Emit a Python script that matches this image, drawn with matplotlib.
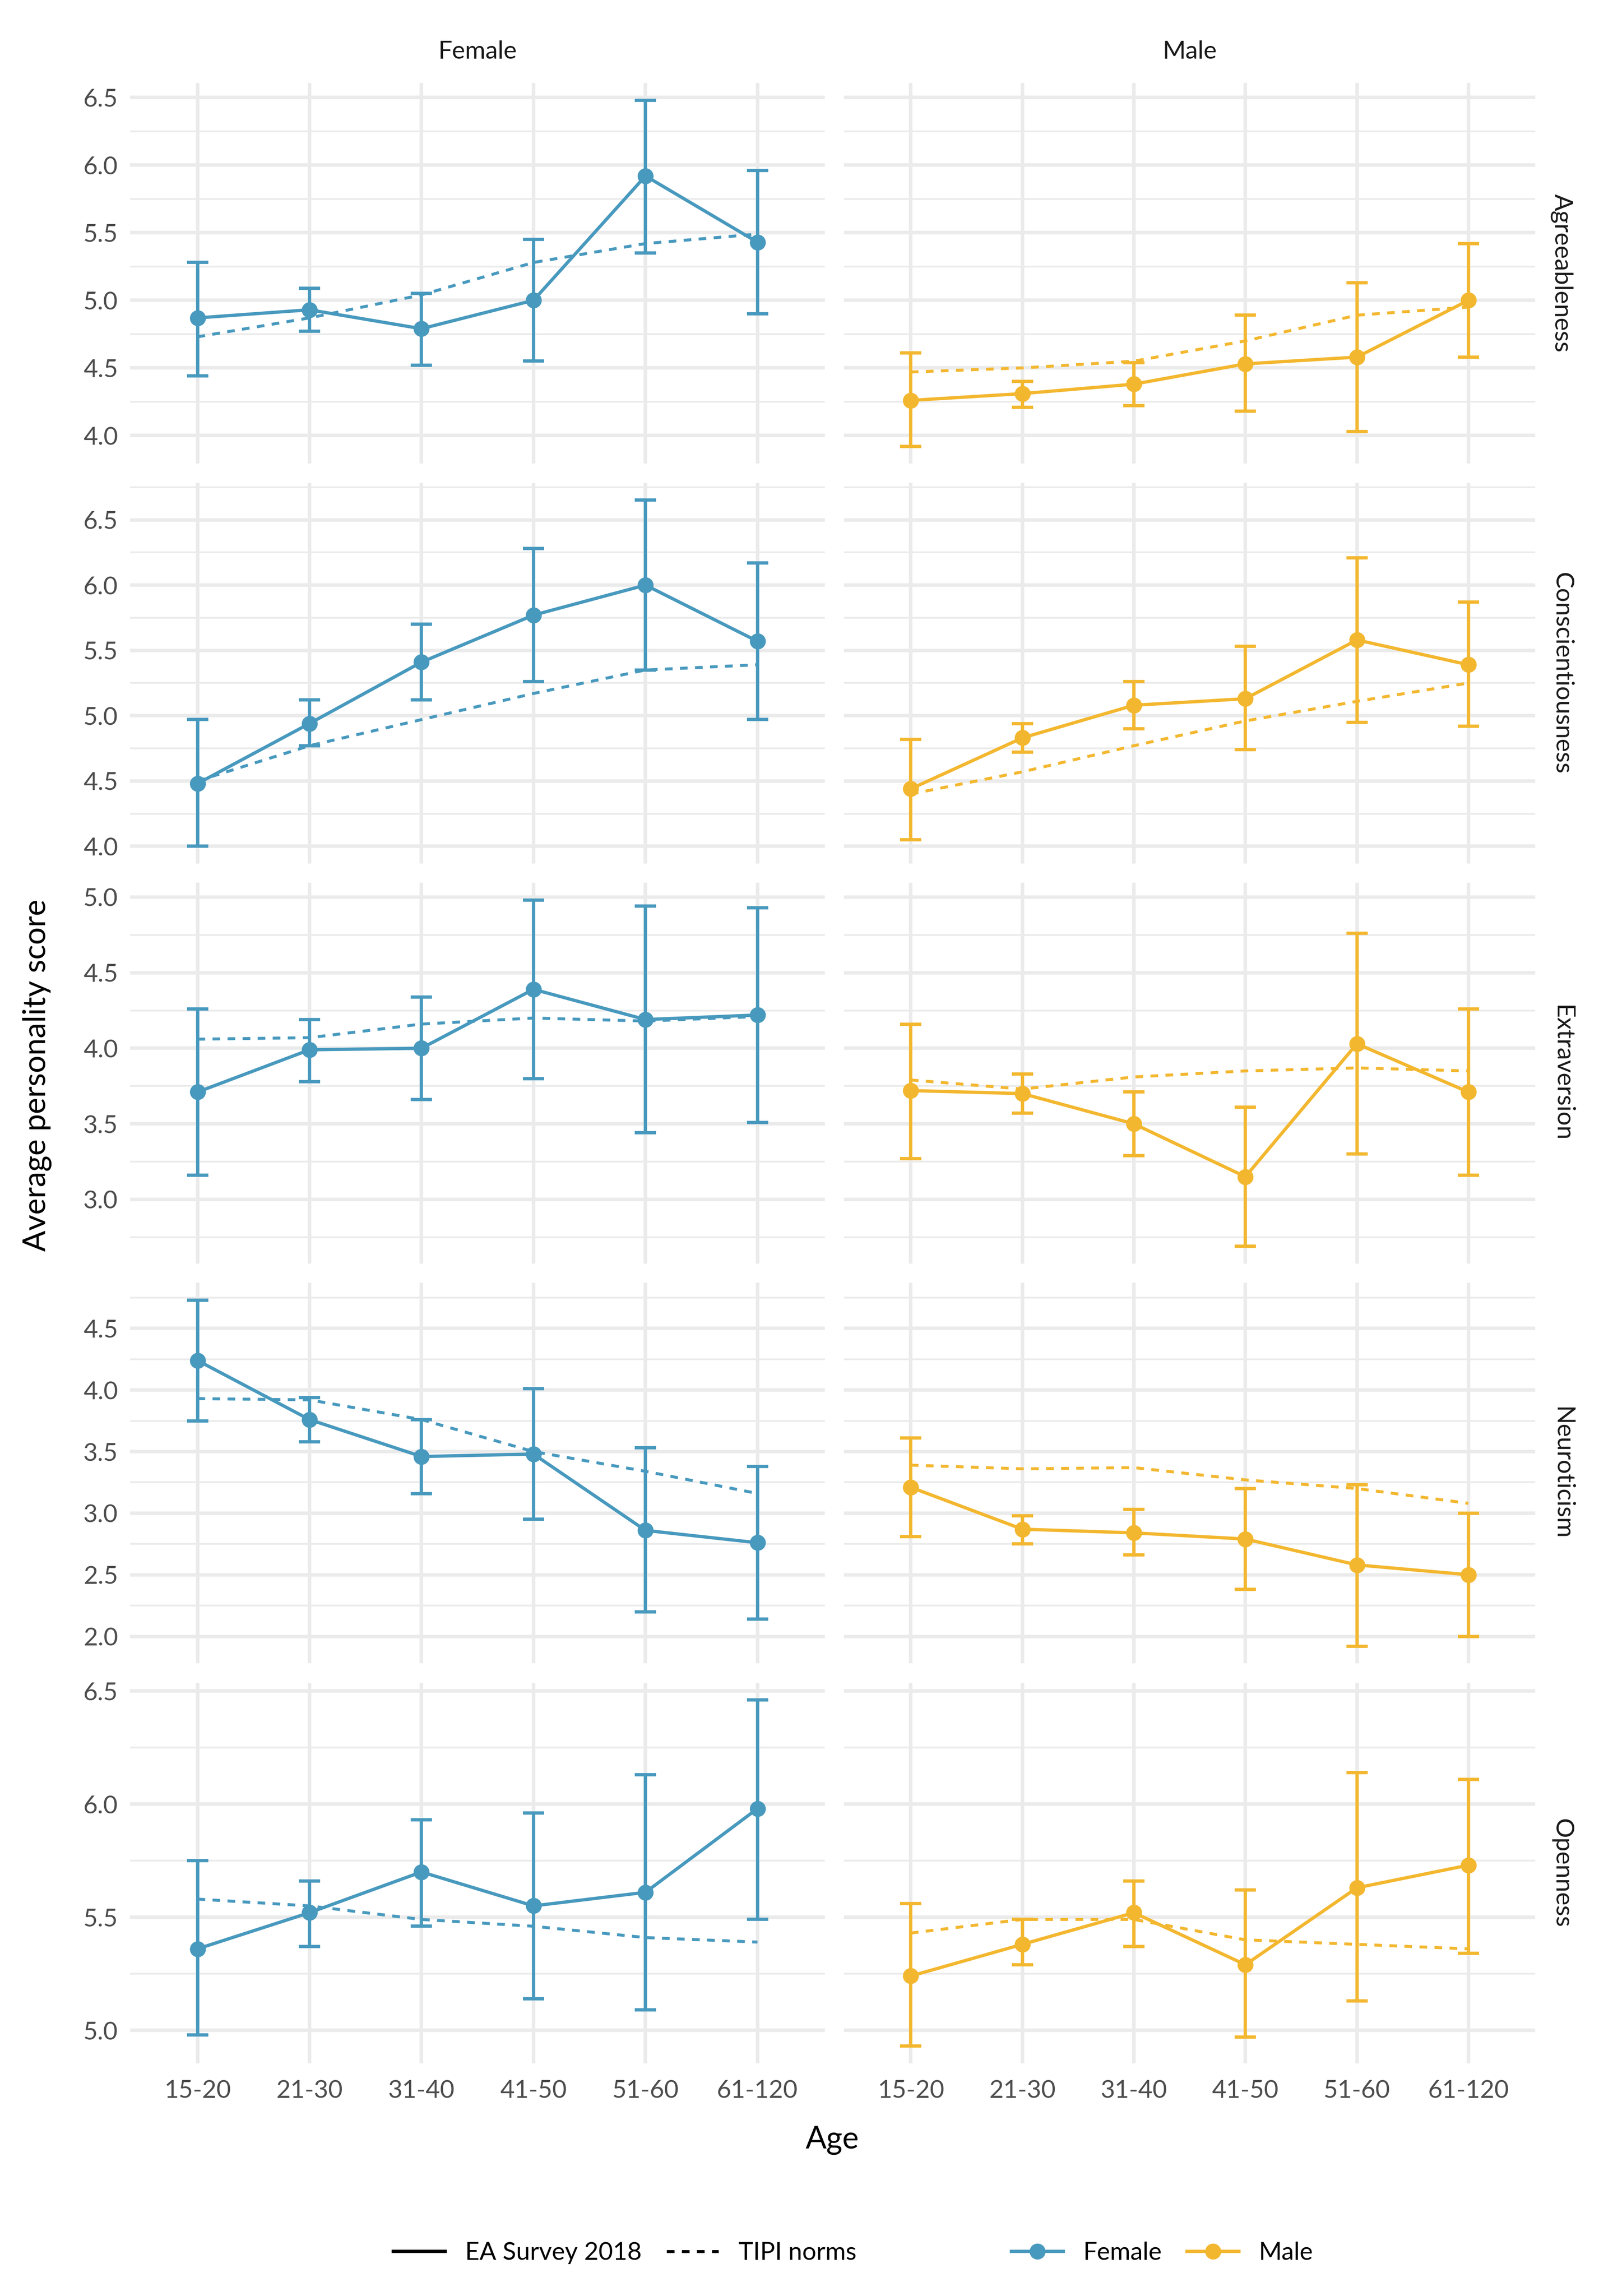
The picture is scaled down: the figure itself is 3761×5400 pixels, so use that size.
import matplotlib
matplotlib.use("Agg")
import matplotlib.pyplot as plt
from matplotlib.lines import Line2D
from matplotlib.ticker import MultipleLocator, NullLocator, FixedLocator, FormatStrFormatter
import numpy as np

plt.rcParams['font.family'] = ['Lato', 'DejaVu Sans']

# ---------------- data ----------------
age_groups = ["15-20", "21-30", "31-40", "41-50", "51-60", "61-120"]
traits = ["Agreeableness", "Conscientiousness", "Extraversion", "Neuroticism", "Openness"]
genders = ["Female", "Male"]

# Agreeableness
agr_f_mean = [4.87, 4.93, 4.79, 5.00, 5.92, 5.43]
agr_f_low = [4.44, 4.77, 4.52, 4.55, 5.35, 4.90]
agr_f_high = [5.28, 5.09, 5.05, 5.45, 6.48, 5.96]
agr_f_tipi = [4.73, 4.87, 5.04, 5.28, 5.42, 5.49]
agr_m_mean = [4.26, 4.31, 4.38, 4.53, 4.58, 5.00]
agr_m_low = [3.92, 4.21, 4.22, 4.18, 4.03, 4.58]
agr_m_high = [4.61, 4.40, 4.54, 4.89, 5.13, 5.42]
agr_m_tipi = [4.47, 4.50, 4.55, 4.70, 4.89, 4.95]

# Conscientiousness
con_f_mean = [4.48, 4.94, 5.41, 5.77, 6.00, 5.57]
con_f_low = [4.00, 4.77, 5.12, 5.26, 5.35, 4.97]
con_f_high = [4.97, 5.12, 5.70, 6.28, 6.65, 6.17]
con_f_tipi = [4.50, 4.77, 4.97, 5.17, 5.35, 5.39]
con_m_mean = [4.44, 4.83, 5.08, 5.13, 5.58, 5.39]
con_m_low = [4.05, 4.72, 4.90, 4.74, 4.95, 4.92]
con_m_high = [4.82, 4.94, 5.26, 5.53, 6.21, 5.87]
con_m_tipi = [4.40, 4.57, 4.77, 4.96, 5.11, 5.25]

# Extraversion
ext_f_mean = [3.71, 3.99, 4.00, 4.39, 4.19, 4.22]
ext_f_low = [3.16, 3.78, 3.66, 3.80, 3.44, 3.51]
ext_f_high = [4.26, 4.19, 4.34, 4.98, 4.94, 4.93]
ext_f_tipi = [4.06, 4.07, 4.16, 4.20, 4.18, 4.21]
ext_m_mean = [3.72, 3.70, 3.50, 3.15, 4.03, 3.71]
ext_m_low = [3.27, 3.57, 3.29, 2.69, 3.30, 3.16]
ext_m_high = [4.16, 3.83, 3.71, 3.61, 4.76, 4.26]
ext_m_tipi = [3.79, 3.73, 3.81, 3.85, 3.87, 3.85]

# Neuroticism
neu_f_mean = [4.24, 3.76, 3.46, 3.48, 2.86, 2.76]
neu_f_low = [3.75, 3.58, 3.16, 2.95, 2.20, 2.14]
neu_f_high = [4.73, 3.94, 3.76, 4.01, 3.53, 3.38]
neu_f_tipi = [3.93, 3.92, 3.76, 3.50, 3.34, 3.16]
neu_m_mean = [3.21, 2.87, 2.84, 2.79, 2.58, 2.50]
neu_m_low = [2.81, 2.75, 2.66, 2.38, 1.92, 2.00]
neu_m_high = [3.61, 2.98, 3.03, 3.20, 3.23, 3.00]
neu_m_tipi = [3.39, 3.36, 3.37, 3.27, 3.20, 3.08]

# Openness
ope_f_mean = [5.36, 5.52, 5.70, 5.55, 5.61, 5.98]
ope_f_low = [4.98, 5.37, 5.46, 5.14, 5.09, 5.49]
ope_f_high = [5.75, 5.66, 5.93, 5.96, 6.13, 6.46]
ope_f_tipi = [5.58, 5.55, 5.49, 5.46, 5.41, 5.39]
ope_m_mean = [5.24, 5.38, 5.52, 5.29, 5.63, 5.73]
ope_m_low = [4.93, 5.29, 5.37, 4.97, 5.13, 5.34]
ope_m_high = [5.56, 5.49, 5.66, 5.62, 6.14, 6.11]
ope_m_tipi = [5.43, 5.49, 5.49, 5.40, 5.38, 5.36]

table = {
    "Agreeableness": {"Female": (agr_f_mean, agr_f_low, agr_f_high, agr_f_tipi),
                      "Male": (agr_m_mean, agr_m_low, agr_m_high, agr_m_tipi)},
    "Conscientiousness": {"Female": (con_f_mean, con_f_low, con_f_high, con_f_tipi),
                          "Male": (con_m_mean, con_m_low, con_m_high, con_m_tipi)},
    "Extraversion": {"Female": (ext_f_mean, ext_f_low, ext_f_high, ext_f_tipi),
                     "Male": (ext_m_mean, ext_m_low, ext_m_high, ext_m_tipi)},
    "Neuroticism": {"Female": (neu_f_mean, neu_f_low, neu_f_high, neu_f_tipi),
                    "Male": (neu_m_mean, neu_m_low, neu_m_high, neu_m_tipi)},
    "Openness": {"Female": (ope_f_mean, ope_f_low, ope_f_high, ope_f_tipi),
                 "Male": (ope_m_mean, ope_m_low, ope_m_high, ope_m_tipi)},
}

# ---------------- style ----------------
colors = {"Female": "#4899BE", "Male": "#F3B72F"}
GRID = "#EBEBEB"
TICK_C = "#4D4D4D"
STRIP_C = "#1A1A1A"
LW = 1.85
MS = 9
DASH = (0, (2.6, 2.5))

W, H = 1080.0, 1550.0  # layout reference units
fig = plt.figure(figsize=(3761 / 300, 5400 / 300), dpi=300)
fig.patch.set_facecolor("white")

col_x = [(88, 469), (570, 467)]
row_top0, row_step, row_h = 56, 270, 257

x = np.arange(len(age_groups))

for r, trait in enumerate(traits):
    allv = []
    for g in genders:
        for arr in table[trait][g]:
            allv += list(arr)
    lo, hi = min(allv), max(allv)
    pad = (hi - lo) * 0.05
    ylim = (lo - pad, hi + pad)
    top = row_top0 + r * row_step
    for c, g in enumerate(genders):
        left, width = col_x[c]
        ax = fig.add_axes([left / W, 1 - (top + row_h) / H, width / W, row_h / H])
        mean, low, high, tipi = [np.array(a) for a in table[trait][g]]
        col = colors[g]
        ax.errorbar(x, mean, yerr=[mean - low, high - mean], fmt='none',
                    ecolor=col, elinewidth=LW, capsize=6.0, capthick=LW, zorder=3)
        ax.plot(x, tipi, color=col, lw=LW * 0.9, linestyle=DASH, zorder=3)
        ax.plot(x, mean, color=col, lw=LW, zorder=4)
        ax.plot(x, mean, 'o', color=col, ms=MS, zorder=5, markeredgewidth=0)
        ax.set_xlim(-0.6, len(age_groups) - 0.4)
        ax.set_ylim(*ylim)
        ax.xaxis.set_major_locator(FixedLocator(x))
        ax.xaxis.set_minor_locator(NullLocator())
        ax.yaxis.set_major_locator(MultipleLocator(0.5))
        ax.yaxis.set_minor_locator(MultipleLocator(0.25))
        ax.set_axisbelow(True)
        ax.grid(which='major', axis='both', color=GRID, lw=2.0)
        ax.grid(which='minor', axis='y', color=GRID, lw=1.0)
        for s in ax.spines.values():
            s.set_visible(False)
        ax.tick_params(which='both', length=0)
        ax.tick_params(axis='y', labelsize=14, labelcolor=TICK_C, pad=7)
        ax.tick_params(axis='x', labelsize=14, labelcolor=TICK_C, pad=9)
        ax.yaxis.set_major_formatter(FormatStrFormatter('%.1f'))
        if c == 1:
            ax.set_yticklabels([])
        if r == len(traits) - 1:
            ax.set_xticks(x)
            ax.set_xticklabels(age_groups)
        else:
            ax.set_xticklabels([])
        if r == 0:
            ax.text(0.5, 1 + 21 / row_h, g, transform=ax.transAxes, ha='center',
                    va='center', fontsize=14, color=STRIP_C)
        if c == 1:
            ax.text(1 + 18 / width, 0.5, trait, transform=ax.transAxes, ha='center',
                    va='center', rotation=-90, fontsize=14, color=STRIP_C)

# axis titles
fig.text(25 / W, 1 - 726 / H, "Average personality score", rotation=90,
         ha='center', va='center', fontsize=17.5, color='black')
fig.text(562 / W, 1 - 1445 / H, "Age", ha='center', va='center',
         fontsize=17.5, color='black')

# legends
lt_handles = [Line2D([], [], color='black', lw=LW),
              Line2D([], [], color='black', lw=LW * 0.9, linestyle=DASH)]
leg1 = fig.legend(lt_handles, ["EA Survey 2018", "TIPI norms"], ncol=2,
                  loc='center', bbox_to_anchor=(422 / W, 1 - 1521 / H),
                  frameon=False, fontsize=14, handlelength=2.1,
                  handletextpad=0.8, columnspacing=1.0)
col_handles = [Line2D([], [], color=colors[g], lw=LW, marker='o', ms=MS,
                      markeredgewidth=0) for g in genders]
leg2 = fig.legend(col_handles, genders, ncol=2, loc='center',
                  bbox_to_anchor=(785 / W, 1 - 1521 / H), frameon=False,
                  fontsize=14, handlelength=2.1, handletextpad=0.8,
                  columnspacing=1.0)

fig.savefig("out.png", dpi=300, facecolor='white')
